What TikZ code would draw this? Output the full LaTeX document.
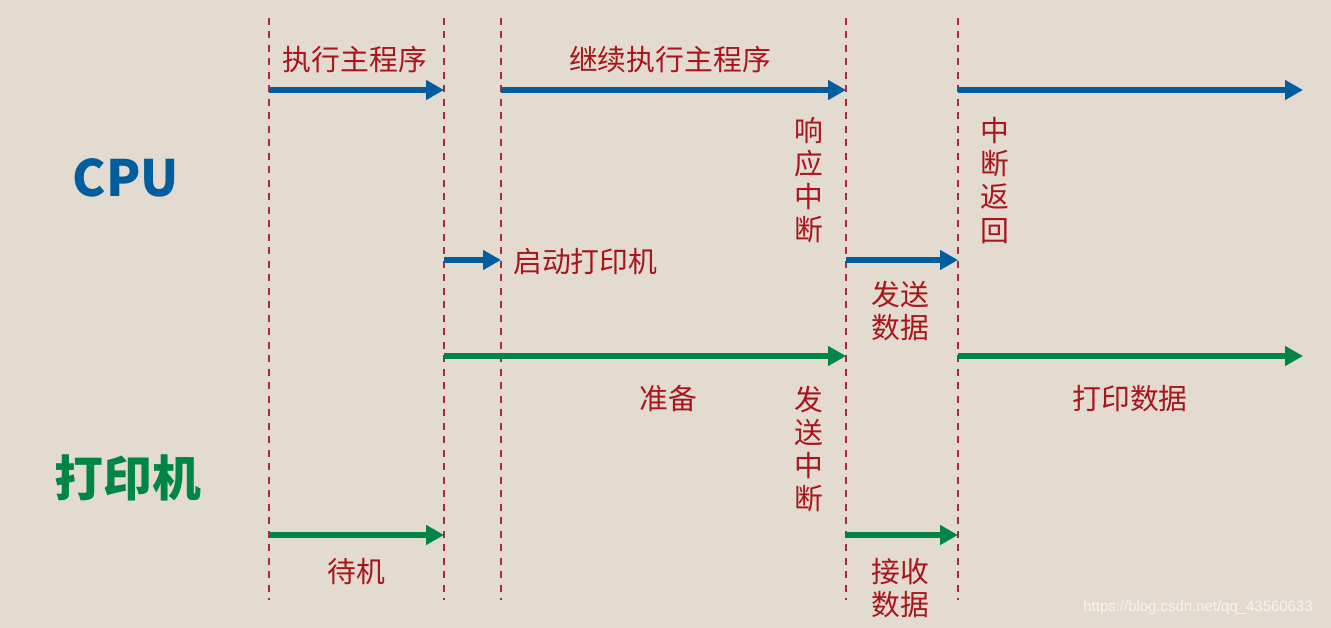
\documentclass[tikz,border=0pt]{standalone}
\usepackage{fontspec}
\setmainfont{Liberation Sans}
\newfontfamily\cjk{Noto Sans CJK SC}
\usetikzlibrary{arrows.meta,calc,positioning}
\definecolor{paper}{RGB}{227,219,208}
\definecolor{cpublue}{RGB}{0,94,158}
\definecolor{prtgreen}{RGB}{0,133,68}
\definecolor{labelred}{RGB}{168,22,28}
\definecolor{guidered}{RGB}{172,38,70}

\begin{document}
\begin{tikzpicture}[x=0.02cm, y=-0.02cm]
    \tikzset{
      guide/.style = {draw = guidered, line width = 0.8pt, dash pattern = on 0.14cm off 0.13cm},
      flow/.style  = {line width = 3pt, -{Triangle[length=0.36cm, width=0.38cm]}},
      cpuflow/.style = {flow, draw = cpublue},
      prtflow/.style = {flow, draw = prtgreen},
      lbl/.style  = {font = \cjk\fontsize{16.4}{18.8}\selectfont, text = labelred, align = center, inner sep = 0pt},
      actor/.style = {font = \cjk\bfseries, inner sep = 0pt}
    }

    % background and bounding box
    \fill[paper] (0,0) rectangle (1331,628);
    \useasboundingbox (0,0) rectangle (1331,628);

    % time lines
    \foreach \n/\x in {A/269, B/444, C/501, D/846, E/958} {
      \coordinate (\n-top) at (\x,18);
      \coordinate (\n-bot) at (\x,600);
      \draw[guide] (\n-top) -- (\n-bot);
    }
    \coordinate (F-top) at (1303,18);

    % rows
    \coordinate (cpumain) at (0,90);
    \coordinate (cpuio)   at (0,260);
    \coordinate (prtwork) at (0,356);
    \coordinate (prtidle) at (0,535);

    % actors
    \node[actor, text = cpublue, font = \cjk\bfseries\fontsize{28.5}{28.5}\selectfont] (cpu) at (126,178) {CPU};
    \node[actor, text = prtgreen, font = \cjk\bfseries\fontsize{27.8}{27.8}\selectfont] (prt) at (128,478) {打印机};

    % cpu arrows
    \draw[cpuflow] (A-top |- cpumain) -- (B-top |- cpumain);
    \draw[cpuflow] (C-top |- cpumain) -- (D-top |- cpumain);
    \draw[cpuflow] (E-top |- cpumain) -- (F-top |- cpumain);
    \draw[cpuflow] (B-top |- cpuio) -- (C-top |- cpuio);
    \draw[cpuflow] (D-top |- cpuio) -- (E-top |- cpuio);

    % printer arrows
    \draw[prtflow] (B-top |- prtwork) -- (D-top |- prtwork);
    \draw[prtflow] (E-top |- prtwork) -- (F-top |- prtwork);
    \draw[prtflow] (A-top |- prtidle) -- (B-top |- prtidle);
    \draw[prtflow] (D-top |- prtidle) -- (E-top |- prtidle);

    % labels
    \node[lbl] (run)      at (355,60)    {执行主程序};
    \node[lbl] (runon)    at (670,60)    {继续执行主程序};
    \node[lbl] (ack)      at (809,180.5) {响\\应\\中\\断};
    \node[lbl] (ret)      at (995,180.5) {中\\断\\返\\回};
    \node[lbl, anchor = west] (start) at (513,262) {启动打印机};
    \node[lbl] (send)     at (900,311.5) {发送\\数据};
    \node[lbl] (prep)     at (668,399)   {准备};
    \node[lbl] (irq)      at (809,449)   {发\\送\\中\\断};
    \node[lbl] (print)    at (1130,399)  {打印数据};
    \node[lbl] (idle)     at (356,572)   {待机};
    \node[lbl] (recv)     at (900,588)   {接收\\数据};

    % watermark
    \node[text = white!72!paper, font = \fontsize{8.5}{9}\selectfont, inner sep = 0pt] (mark) at (1198,608) {https://blog.csdn.net/qq\_43560633};
\end{tikzpicture}
\end{document}
